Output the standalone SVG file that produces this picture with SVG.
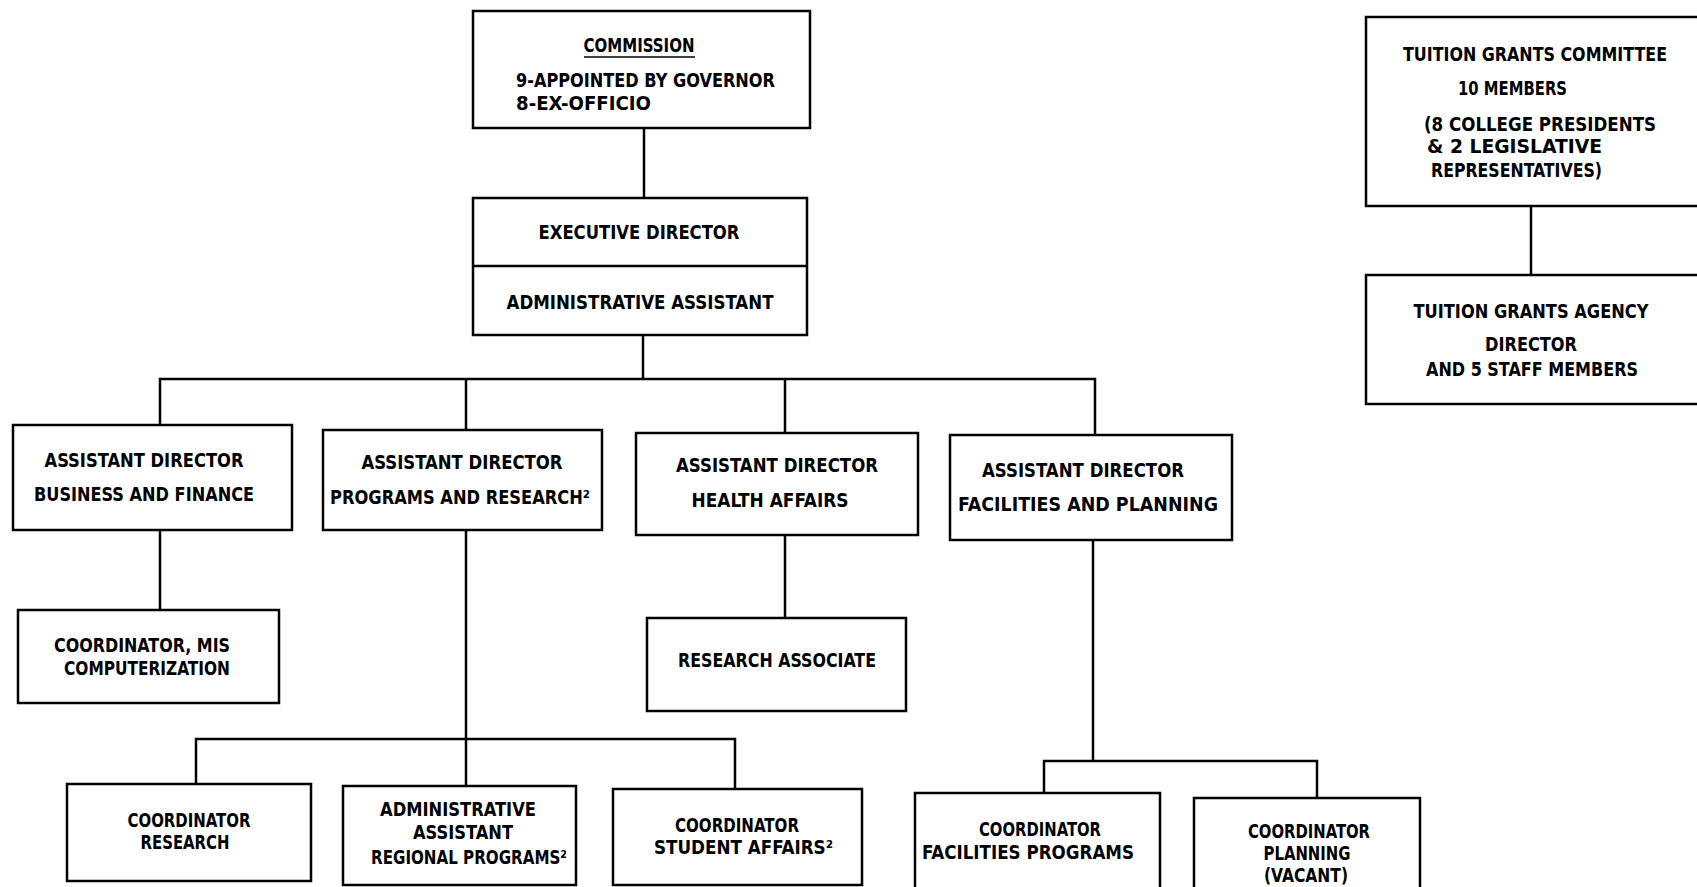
<svg xmlns="http://www.w3.org/2000/svg" width="1697" height="887" viewBox="0 0 1697 887">
<style>
rect.box{fill:#fff;stroke:#000;stroke-width:2.5}
.c line,.c polyline{stroke:#000;stroke-width:2.5;fill:none}
text{font-family:"DejaVu Sans Condensed","DejaVu Sans",sans-serif;font-weight:bold;font-size:19px;fill:#000}
.m{text-anchor:middle}
</style>
<rect width="1697" height="887" fill="#fff"/>
<g class="c" id="connectors">
<line x1="644" y1="128" x2="644" y2="198"/>
<line x1="643" y1="335" x2="643" y2="379"/>
<polyline points="160,425 160,379 1095,379 1095,435"/>
<line x1="466" y1="379" x2="466" y2="430"/>
<line x1="785" y1="379" x2="785" y2="433"/>
<line x1="160" y1="530" x2="160" y2="610"/>
<line x1="466" y1="530" x2="466" y2="786"/>
<polyline points="196,784 196,739 735,739 735,789"/>
<line x1="785" y1="535" x2="785" y2="618"/>
<line x1="1093" y1="540" x2="1093" y2="761"/>
<polyline points="1044,793 1044,761 1317,761 1317,798"/>
<line x1="1531" y1="206" x2="1531" y2="275"/>
</g>
<g id="commission">
<rect class="box" x="473" y="11" width="337" height="117"/>
<text class="m" x="639" y="52" textLength="111" lengthAdjust="spacingAndGlyphs">COMMISSION</text>
<line x1="584" y1="57" x2="695" y2="57" stroke="#000" stroke-width="1.5"/>
<text x="516" y="87" textLength="259" lengthAdjust="spacingAndGlyphs">9-APPOINTED BY GOVERNOR</text>
<text x="516" y="110" textLength="135" lengthAdjust="spacingAndGlyphs">8-EX-OFFICIO</text>
</g>
<g id="executive-director">
<rect class="box" x="473" y="198" width="334" height="137"/>
<line x1="473" y1="266" x2="807" y2="266" stroke="#000" stroke-width="2.5"/>
<text class="m" x="639" y="239" textLength="201" lengthAdjust="spacingAndGlyphs">EXECUTIVE DIRECTOR</text>
<text class="m" x="640" y="309" textLength="267" lengthAdjust="spacingAndGlyphs">ADMINISTRATIVE ASSISTANT</text>
</g>
<g id="ad-business">
<rect class="box" x="13" y="425" width="279" height="105"/>
<text class="m" x="144" y="467" textLength="199" lengthAdjust="spacingAndGlyphs">ASSISTANT DIRECTOR</text>
<text class="m" x="144" y="501" textLength="220" lengthAdjust="spacingAndGlyphs">BUSINESS AND FINANCE</text>
</g>
<g id="ad-programs">
<rect class="box" x="323" y="430" width="279" height="100"/>
<text class="m" x="462" y="469" textLength="201" lengthAdjust="spacingAndGlyphs">ASSISTANT DIRECTOR</text>
<text x="330" y="504" textLength="260" lengthAdjust="spacingAndGlyphs">PROGRAMS AND RESEARCH²</text>
</g>
<g id="ad-health">
<rect class="box" x="636" y="433" width="282" height="102"/>
<text class="m" x="777" y="472" textLength="202" lengthAdjust="spacingAndGlyphs">ASSISTANT DIRECTOR</text>
<text class="m" x="770" y="507" textLength="157" lengthAdjust="spacingAndGlyphs">HEALTH AFFAIRS</text>
</g>
<g id="ad-facilities">
<rect class="box" x="950" y="435" width="282" height="105"/>
<text class="m" x="1083" y="477" textLength="202" lengthAdjust="spacingAndGlyphs">ASSISTANT DIRECTOR</text>
<text class="m" x="1088" y="511" textLength="260" lengthAdjust="spacingAndGlyphs">FACILITIES AND PLANNING</text>
</g>
<g id="coordinator-mis">
<rect class="box" x="18" y="610" width="261" height="93"/>
<text class="m" x="142" y="652" textLength="176" lengthAdjust="spacingAndGlyphs">COORDINATOR, MIS</text>
<text class="m" x="147" y="675" textLength="166" lengthAdjust="spacingAndGlyphs">COMPUTERIZATION</text>
</g>
<g id="research-associate">
<rect class="box" x="647" y="618" width="259" height="93"/>
<text class="m" x="777" y="667" textLength="198" lengthAdjust="spacingAndGlyphs">RESEARCH ASSOCIATE</text>
</g>
<g id="coordinator-research">
<rect class="box" x="67" y="784" width="244" height="97"/>
<text class="m" x="189" y="827" textLength="123" lengthAdjust="spacingAndGlyphs">COORDINATOR</text>
<text class="m" x="185" y="849" textLength="89" lengthAdjust="spacingAndGlyphs">RESEARCH</text>
</g>
<g id="admin-regional">
<rect class="box" x="343" y="786" width="233" height="99"/>
<text class="m" x="458" y="816" textLength="156" lengthAdjust="spacingAndGlyphs">ADMINISTRATIVE</text>
<text class="m" x="463" y="839" textLength="100" lengthAdjust="spacingAndGlyphs">ASSISTANT</text>
<text x="371" y="864" textLength="196" lengthAdjust="spacingAndGlyphs">REGIONAL PROGRAMS²</text>
</g>
<g id="coordinator-student">
<rect class="box" x="613" y="789" width="249" height="96"/>
<text class="m" x="737" y="832" textLength="124" lengthAdjust="spacingAndGlyphs">COORDINATOR</text>
<text x="654" y="854" textLength="179" lengthAdjust="spacingAndGlyphs">STUDENT AFFAIRS²</text>
</g>
<g id="coordinator-facilities">
<rect class="box" x="915" y="793" width="245" height="96"/>
<text class="m" x="1040" y="836" textLength="122" lengthAdjust="spacingAndGlyphs">COORDINATOR</text>
<text class="m" x="1028" y="859" textLength="212" lengthAdjust="spacingAndGlyphs">FACILITIES PROGRAMS</text>
</g>
<g id="coordinator-planning">
<rect class="box" x="1194" y="798" width="226" height="91"/>
<text class="m" x="1309" y="838" textLength="122" lengthAdjust="spacingAndGlyphs">COORDINATOR</text>
<text class="m" x="1307" y="860" textLength="87" lengthAdjust="spacingAndGlyphs">PLANNING</text>
<text class="m" x="1306" y="882" textLength="84" lengthAdjust="spacingAndGlyphs">(VACANT)</text>
</g>
<g id="tuition-committee">
<rect class="box" x="1366" y="17" width="340" height="189"/>
<text class="m" x="1535" y="61" textLength="264" lengthAdjust="spacingAndGlyphs">TUITION GRANTS COMMITTEE</text>
<text x="1458" y="95" textLength="109" lengthAdjust="spacingAndGlyphs">10 MEMBERS</text>
<text x="1424" y="131" textLength="232" lengthAdjust="spacingAndGlyphs">(8 COLLEGE PRESIDENTS</text>
<text x="1427" y="153" textLength="175" lengthAdjust="spacingAndGlyphs">&amp; 2 LEGISLATIVE</text>
<text x="1431" y="177" textLength="171" lengthAdjust="spacingAndGlyphs">REPRESENTATIVES)</text>
</g>
<g id="tuition-agency">
<rect class="box" x="1366" y="275" width="340" height="129"/>
<text class="m" x="1531" y="318" textLength="235" lengthAdjust="spacingAndGlyphs">TUITION GRANTS AGENCY</text>
<text class="m" x="1531" y="351" textLength="92" lengthAdjust="spacingAndGlyphs">DIRECTOR</text>
<text class="m" x="1532" y="376" textLength="212" lengthAdjust="spacingAndGlyphs">AND 5 STAFF MEMBERS</text>
</g>
</svg>
